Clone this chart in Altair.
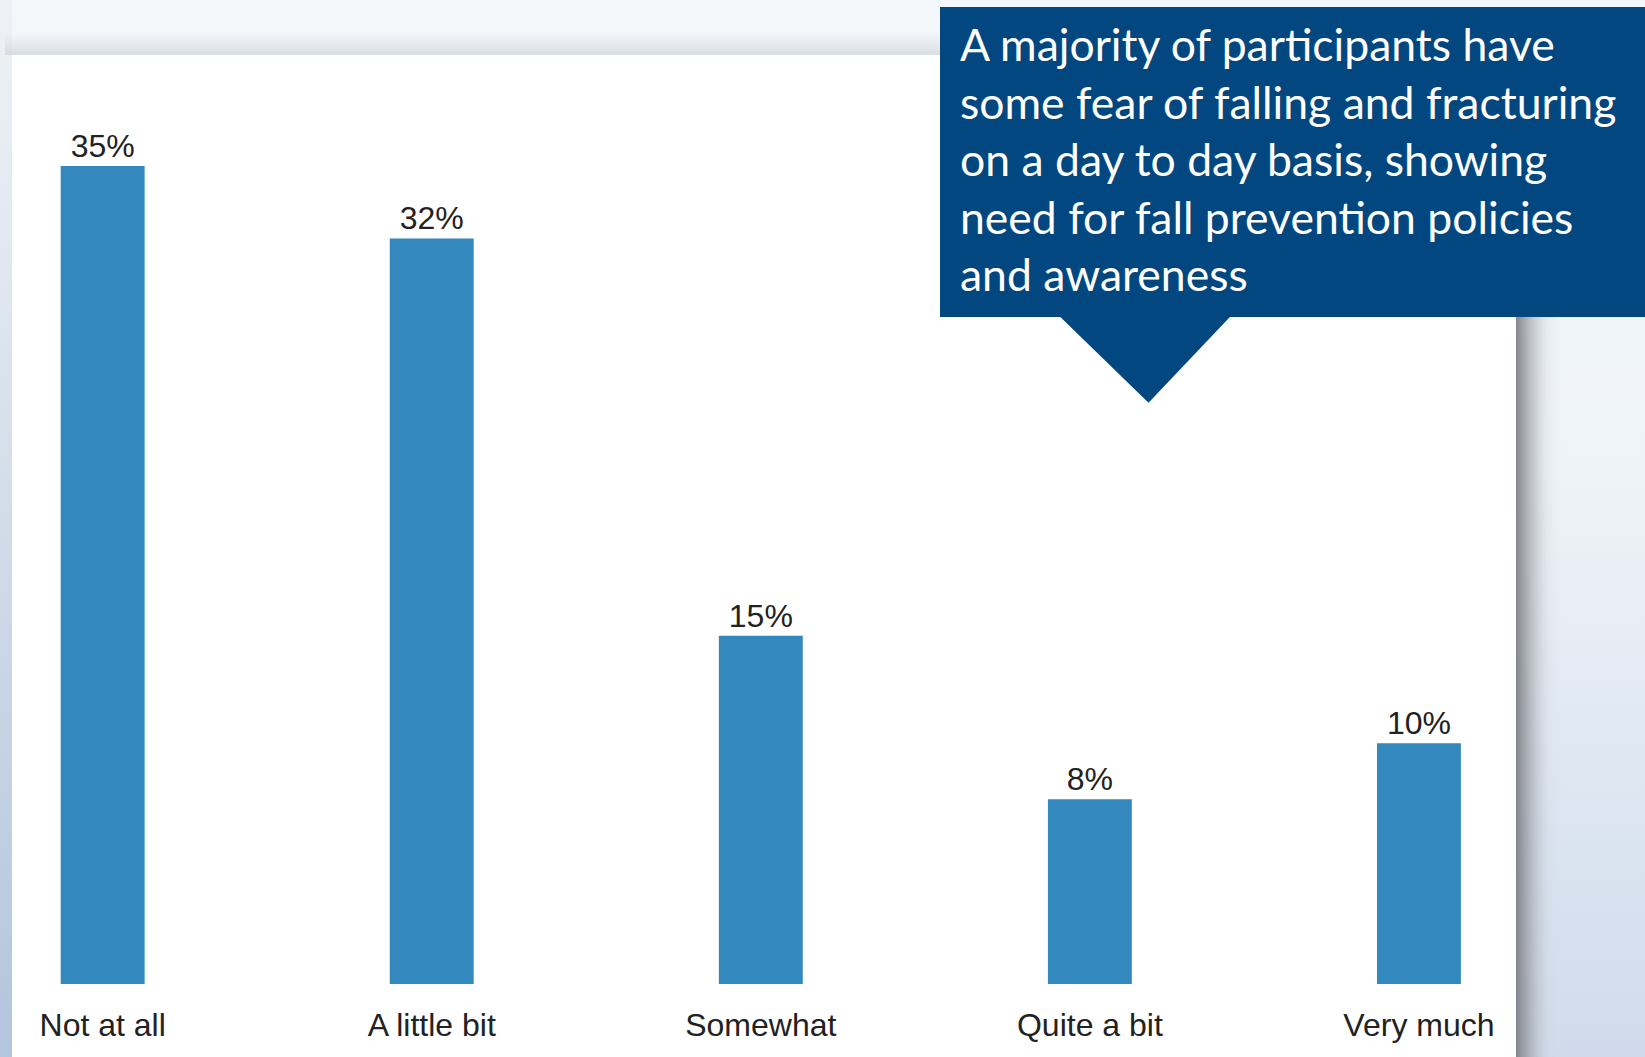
import altair as alt
import pandas as pd

# ---- data ----
categories = ["Not at all", "A little bit", "Somewhat", "Quite a bit", "Very much"]
values = [35, 31.9, 14.9, 7.9, 10.3]
labels = ["35%", "32%", "15%", "8%", "10%"]
callout_lines = [
    "A majority of participants have",
    "some fear of falling and fracturing",
    "on a day to day basis, showing",
    "need for fall prevention policies",
    "and awareness",
]

df = pd.DataFrame({"category": categories, "value": values, "label": labels})
one = pd.DataFrame({"_": [0]})

W, H = 1495.6, 818
BAR = "#3388bd"
NAVY = "#02477f"


def grad(stops, x2=0, y2=1):
    return alt.Gradient(
        gradient="linear",
        stops=[alt.GradientStop(color=c, offset=o) for o, c in stops],
        x1=0, y1=0, x2=x2, y2=y2,
    )


def box(x, x2, y, y2, **kw):
    return alt.Chart(one).mark_rect(**kw).encode(
        x=alt.value(x), x2=alt.value(x2), y=alt.value(y), y2=alt.value(y2)
    )


# slide background
bg = box(-13, 1632, -166, 891, color=grad([(0, "#f4f7fa"), (0.45, "#eef3f8"), (1, "#cfdbec")]))
left_strip = box(-13, -1, -166, 891, color=grad([(0, "#eef2f6"), (0.3, "#dde5ee"), (1, "#b3c5dc")]))
top_shadow = box(-8, 1503, -133, -111, color=grad([(0, "rgba(190,198,206,0)"), (1, "rgba(190,198,206,0.5)")]))
right_shadow = box(1503, 1549, -111, 891, color=grad(
    [(0, "rgba(120,122,128,0.9)"), (0.3, "rgba(150,152,158,0.6)"), (0.7, "rgba(200,206,214,0.2)"), (1, "rgba(220,226,234,0)")],
    x2=1, y2=0))
panel = box(-1, 1503, -111, 891, color="#ffffff")

base = alt.Chart(df)
bars = base.mark_bar(color=BAR).encode(
    x=alt.X(
        "category:N",
        sort=categories,
        scale=alt.Scale(paddingInner=0.745, paddingOuter=0.145),
        axis=alt.Axis(
            title=None, ticks=False, tickSize=0, domain=False, grid=False,
            labelAngle=0, labelFont="Liberation Sans", labelFontSize=32,
            labelColor="#222222", labelBaseline="alphabetic", labelPadding=51,
            labelLimit=0, zindex=2,
        ),
    ),
    y=alt.Y("value:Q", scale=alt.Scale(domain=[0, 35], nice=False, zero=True), axis=None),
)
text = base.mark_text(
    font="Liberation Sans", fontSize=32, color="#222222", baseline="alphabetic", dy=-9
).encode(
    x=alt.X("category:N", sort=categories),
    y="value:Q",
    text="label:N",
)

callout = box(927, 1632, -159, 151, color=NAVY)
pointer = alt.Chart(one).mark_point(
    shape="M-1,-0.52L1,-0.52L0.04,0.49Z", filled=True, color=NAVY, opacity=1, strokeWidth=0, size=30625
).encode(x=alt.value(1132), y=alt.value(193.8))
callout_text = alt.Chart(one).mark_text(
    text=callout_lines, font="Lato", fontSize=44.5, color="white", align="left",
    baseline="alphabetic", lineHeight=57.5,
).encode(x=alt.value(947), y=alt.value(-105))

chart = alt.layer(
    bg, left_strip, top_shadow, right_shadow, panel, bars, text, callout, pointer, callout_text
).properties(
    width=W, height=H,
    padding={"left": 13, "top": 166, "right": 136.4, "bottom": 73},
    autosize="none",
).configure_view(stroke=None, fill=None).configure(background="#f3f6f9")

chart.save("out.html", embed_options={"renderer": "svg", "actions": False})
